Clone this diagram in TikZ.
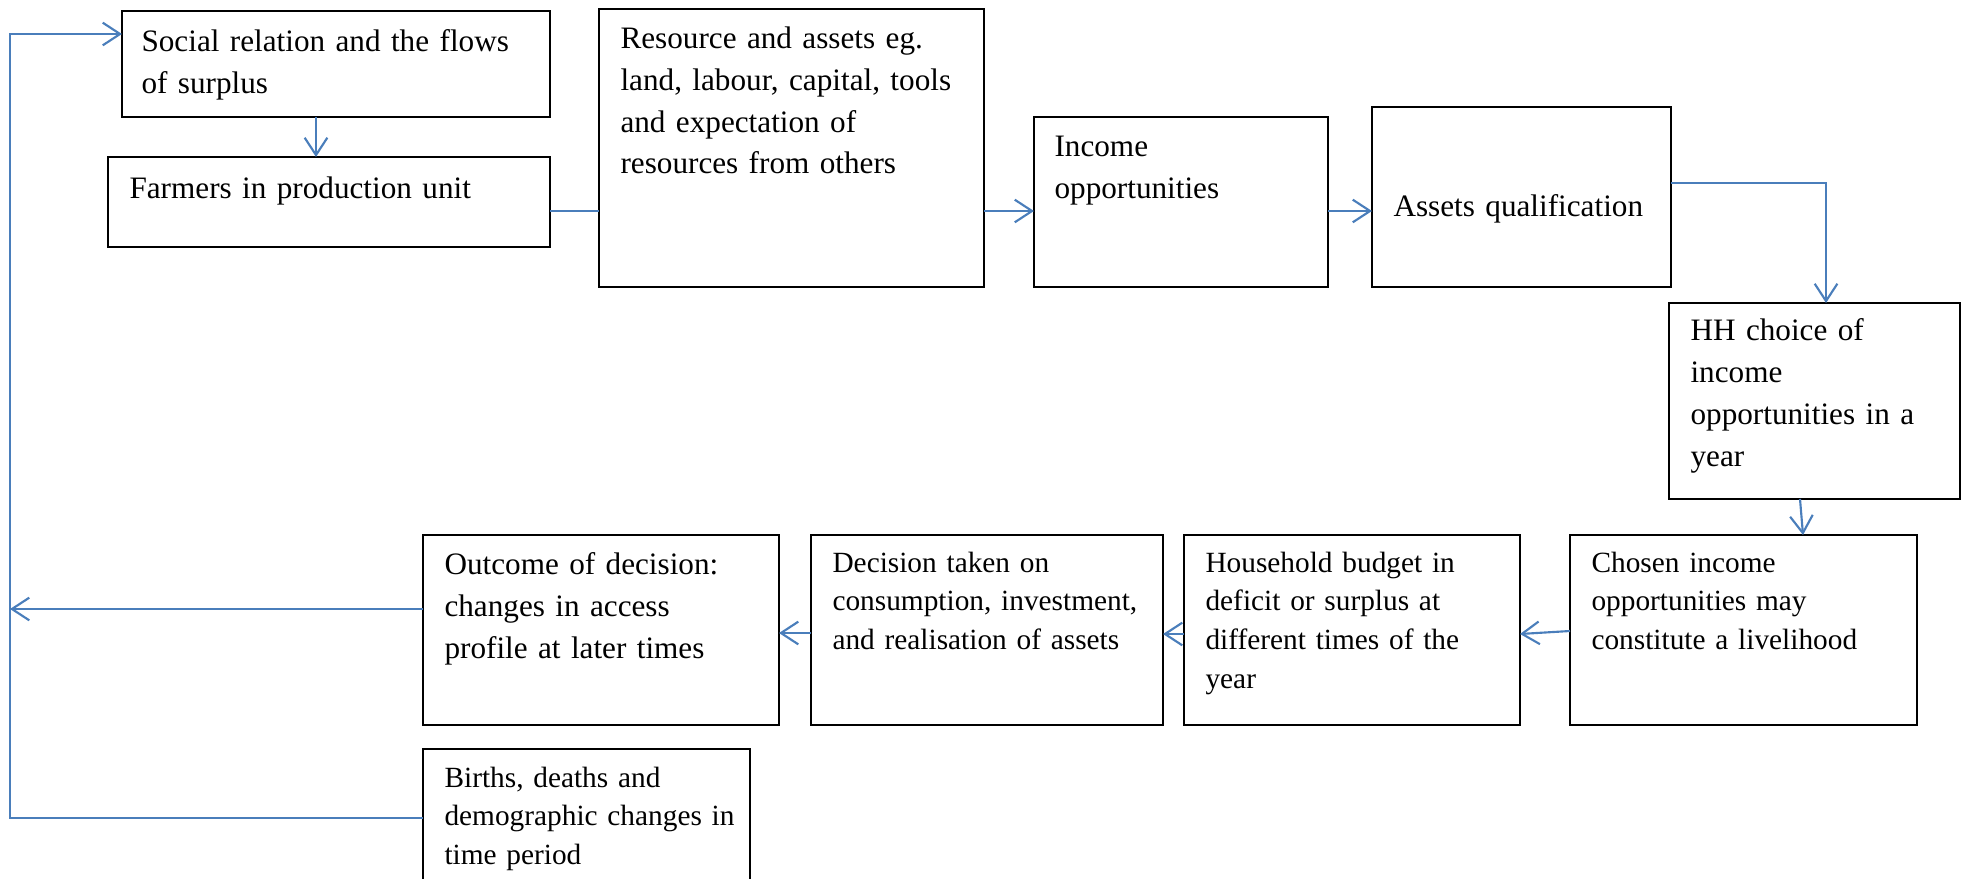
\documentclass[tikz,border=0pt]{standalone}
\usepackage{fontspec}
\setmainfont{Liberation Serif}
\usetikzlibrary{arrows.meta}
\definecolor{linkblue}{RGB}{74,126,187}
\begin{document}
\begin{tikzpicture}[x=0.375pt, y=-0.375pt,
  box/.style 2 args={draw=black, line width=0.8pt, fill=white, anchor=north west,
    inner sep=0pt, outer sep=0pt, minimum width=#1*0.375pt, minimum height=#2*0.375pt},
  tbig/.style={anchor=base west, inner sep=0pt, text width=300pt, align=left,
    font=\fontsize{11.7}{15.75}\selectfont},
  tsmall/.style={anchor=base west, inner sep=0pt, text width=300pt, align=left,
    font=\fontsize{11}{14.6}\selectfont},
  conn/.style={draw=linkblue, line width=0.8pt},
  arr/.style={conn, -{Straight Barb[length=6.5pt, width=8.5pt]}},
]
\useasboundingbox (0,0) rectangle (1965,878);
\clip (0,0) rectangle (1965,878);

% boxes
\node[box={428}{106}] (social)    at (122,11)  {};
\node[box={442}{90}]  (farmers)   at (108,157) {};
\node[box={385}{278}] (resource)  at (599,9)   {};
\node[box={294}{170}] (income)    at (1034,117) {};
\node[box={299}{180}] (assets)    at (1372,107) {};
\node[box={291}{196}] (hh)        at (1669,303) {};
\node[box={347}{190}] (chosen)    at (1570,535) {};
\node[box={336}{190}] (household) at (1184,535) {};
\node[box={352}{190}] (decision)  at (811,535)  {};
\node[box={356}{190}] (outcome)   at (423,535)  {};
\node[box={327}{138}] (births)    at (423,749)  {};

% box texts
\node[tbig] (social-t)   at ([shift={(19,40)}]social.north west)   {Social relation and the flows\\of surplus};
\node[tbig] (farmers-t)  at ([shift={(21,41)}]farmers.north west)  {Farmers in production unit};
\node[tbig] (resource-t) at ([shift={(21,39)}]resource.north west) {Resource and assets eg.\\land, labour, capital, tools\\and expectation of\\resources from others};
\node[tbig] (income-t)   at ([shift={(20,39)}]income.north west)   {Income\\opportunities};
\node[tbig] (assets-t)   at ([shift={(21,109)}]assets.north west)  {Assets qualification};
\node[tbig] (hh-t)       at ([shift={(21,37)}]hh.north west)       {HH choice of\\income\\opportunities in a\\year};
\node[tsmall] (chosen-t)    at ([shift={(21,37)}]chosen.north west)    {Chosen income\\opportunities may\\constitute a livelihood};
\node[tsmall] (household-t) at ([shift={(21,37)}]household.north west) {Household budget in\\deficit or surplus at\\different times of the\\year};
\node[tsmall] (decision-t)  at ([shift={(21,37)}]decision.north west)  {Decision taken on\\consumption, investment,\\and realisation of assets};
\node[tbig]   (outcome-t)   at ([shift={(21,39)}]outcome.north west)   {Outcome of decision:\\changes in access\\profile at later times};
\node[tsmall] (births-t)    at ([shift={(21,38)}]births.north west)    {Births, deaths and\\demographic changes in\\time period};

% routing points
\coordinate (loopTop) at (10,34);
\coordinate (loopMid) at (10,609);
\coordinate (downX)   at (316,0);
\coordinate (rowY)    at (0,211);
\coordinate (turn)    at (1826,183);
\coordinate (hhOut)   at (1800,0);
\coordinate (chIn)    at (1803,0);
\coordinate (chOut)   at (0,631);
\coordinate (hbIn)    at (0,634);
\coordinate (lowY)    at (0,633);

% connectors
\draw[arr]  (births.west) -| (loopTop) -- (social.west |- loopTop);
\draw[arr]  (outcome.west |- loopMid) -- (loopMid);
\draw[arr]  (social.south -| downX) -- (farmers.north -| downX);
\draw[conn] (farmers.east |- rowY) -- (resource.west |- rowY);
\draw[arr]  (resource.east |- rowY) -- (income.west |- rowY);
\draw[arr]  (income.east |- rowY) -- (assets.west |- rowY);
\draw[arr]  (assets.east |- turn) -- (turn) -- (hh.north -| turn);
\draw[arr]  (hh.south -| hhOut) -- (chosen.north -| chIn);
\draw[arr]  (chosen.west |- chOut) -- (household.east |- hbIn);
\draw[arr]  (household.west |- hbIn) -- (decision.east |- hbIn);
\draw[arr]  (decision.west |- lowY) -- (outcome.east |- lowY);
\end{tikzpicture}
\end{document}
